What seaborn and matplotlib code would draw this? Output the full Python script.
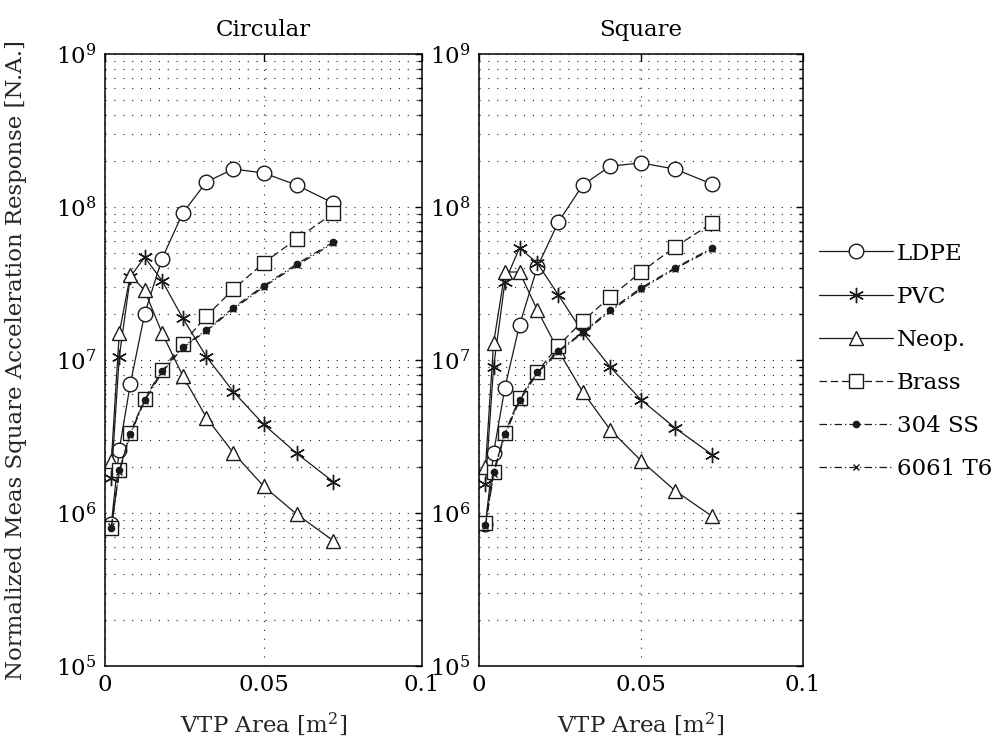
import numpy as np
import pandas as pd
import seaborn as sns
import matplotlib
matplotlib.use("Agg")
import matplotlib.pyplot as plt
from matplotlib.ticker import LogLocator, NullFormatter, LogFormatterSciNotation, FixedLocator, NullLocator

# ---------------- data ----------------
area = [0.002, 0.0045, 0.008, 0.0125, 0.018, 0.0245, 0.032, 0.0405, 0.05, 0.0605, 0.072]
materials = ["LDPE", "PVC", "Neop.", "Brass", "304 SS", "6061 T6"]
panels = ["Circular", "Square"]
x_ticks = [0, 0.05, 0.1]
x_tick_labels = ["0", "0.05", "0.1"]

circ_ldpe = [8.5e5, 2.6e6, 7.0e6, 2.0e7, 4.6e7, 9.1e7, 1.46e8, 1.77e8, 1.67e8, 1.39e8, 1.06e8]
circ_pvc = [1.7e6, 1.05e7, 3.5e7, 4.7e7, 3.3e7, 1.88e7, 1.05e7, 6.2e6, 3.8e6, 2.45e6, 1.6e6]
circ_neop = [2.2e6, 1.5e7, 3.6e7, 2.85e7, 1.5e7, 7.9e6, 4.2e6, 2.47e6, 1.5e6, 9.8e5, 6.6e5]
circ_brass = [8.0e5, 1.9e6, 3.35e6, 5.6e6, 8.6e6, 1.28e7, 1.94e7, 2.9e7, 4.3e7, 6.2e7, 9.1e7]
circ_ss = [8.0e5, 1.9e6, 3.3e6, 5.5e6, 8.5e6, 1.22e7, 1.57e7, 2.2e7, 3.05e7, 4.24e7, 5.9e7]
circ_al = [8.2e5, 1.85e6, 3.25e6, 5.4e6, 8.3e6, 1.2e7, 1.55e7, 2.15e7, 3.0e7, 4.15e7, 5.8e7]

sq_ldpe = [8.5e5, 2.47e6, 6.6e6, 1.69e7, 4.05e7, 7.98e7, 1.39e8, 1.85e8, 1.94e8, 1.77e8, 1.41e8]
sq_pvc = [1.55e6, 9.0e6, 3.24e7, 5.4e7, 4.3e7, 2.66e7, 1.52e7, 9.0e6, 5.5e6, 3.6e6, 2.4e6]
sq_neop = [2.0e6, 1.29e7, 3.76e7, 3.76e7, 2.12e7, 1.15e7, 6.2e6, 3.5e6, 2.2e6, 1.4e6, 9.5e5]
sq_brass = [8.6e5, 1.85e6, 3.34e6, 5.65e6, 8.4e6, 1.24e7, 1.8e7, 2.58e7, 3.76e7, 5.48e7, 7.86e7]
sq_ss = [8.4e5, 1.85e6, 3.3e6, 5.5e6, 8.3e6, 1.15e7, 1.52e7, 2.12e7, 2.96e7, 4.0e7, 5.4e7]
sq_al = [8.2e5, 1.8e6, 3.25e6, 5.4e6, 8.2e6, 1.13e7, 1.5e7, 2.08e7, 2.9e7, 3.95e7, 5.3e7]

panel_data = {
    "Circular": [circ_ldpe, circ_pvc, circ_neop, circ_brass, circ_ss, circ_al],
    "Square": [sq_ldpe, sq_pvc, sq_neop, sq_brass, sq_ss, sq_al],
}

# ---------------- styles ----------------
styles = {
    "LDPE":    dict(marker="o", linestyle="-", mfc="white", ms=10.5),
    "PVC":     dict(marker=(6, 2, 0), linestyle="-", mfc="k", ms=11),
    "Neop.":   dict(marker="^", linestyle="-", mfc="white", ms=10.5),
    "Brass":   dict(marker="s", linestyle=(0, (6, 3)), mfc="white", ms=10.5),
    "304 SS":  dict(marker=".", linestyle=(0, (6, 2.5, 1, 2.5)), mfc="k", ms=9),
    "6061 T6": dict(marker="x", linestyle=(0, (6, 2.5, 1, 2.5)), mfc="k", ms=5),
}

sns.set_theme(style="white")
plt.rcParams["font.family"] = ["DejaVu Serif"]
plt.rcParams["mathtext.fontset"] = "dejavuserif"
plt.rcParams["axes.edgecolor"] = "black"
plt.rcParams["text.color"] = "black"
plt.rcParams["xtick.color"] = "black"
plt.rcParams["ytick.color"] = "black"

FS = 16.5
fig = plt.figure(figsize=(10.08, 7.51), dpi=100)
W, H = 1008, 751
ax_pos = [(105, 54, 422, 666), (479, 54, 803, 666)]
axes = []
for (l, t, r, b) in ax_pos:
    axes.append(fig.add_axes([l / W, 1 - b / H, (r - l) / W, (b - t) / H]))

for ax, panel in zip(axes, panels):
    for mat, yvals in zip(materials, panel_data[panel]):
        df = pd.DataFrame({"area": area, "resp": yvals})
        st = styles[mat]
        sns.lineplot(data=df, x="area", y="resp", ax=ax, color="k", legend=False,
                     marker=st["marker"], linestyle=st["linestyle"], linewidth=0.9,
                     markersize=st["ms"], markerfacecolor=st["mfc"],
                     markeredgecolor="k", markeredgewidth=1.0, sort=True)
    ax.set_yscale("log")
    ax.set_xlim(0, 0.1)
    ax.set_ylim(1e5, 1e9)
    ax.xaxis.set_major_locator(FixedLocator(x_ticks))
    ax.set_xticklabels(x_tick_labels)
    ax.xaxis.set_minor_locator(NullLocator())
    ax.yaxis.set_major_locator(LogLocator(base=10, numticks=10))
    ax.yaxis.set_minor_locator(LogLocator(base=10, subs=np.arange(2, 10), numticks=20))
    ax.yaxis.set_major_formatter(LogFormatterSciNotation())
    ax.yaxis.set_minor_formatter(NullFormatter())
    ax.tick_params(which="both", direction="in", top=True, right=True,
                   labelsize=FS, colors="black", width=1.0)
    ax.tick_params(which="major", length=5, pad=6)
    ax.tick_params(which="minor", length=3)
    ax.grid(True, which="both", axis="y", color="0.1", linestyle=(0, (1, 7)), linewidth=0.8)
    ax.grid(True, which="major", axis="x", color="0.1", linestyle=(0, (1, 7)), linewidth=0.8)
    for s in ax.spines.values():
        s.set_linewidth(1.1)
        s.set_color("black")
    ax.set_title(panel, fontsize=FS, pad=13)
    ax.set_xlabel("VTP Area [m$^2$]", fontsize=FS, labelpad=10)
    ax.set_ylabel("")

axes[0].set_ylabel("Normalized Meas Square Acceleration Response [N.A.]", fontsize=FS)
axes[0].yaxis.set_label_coords(-0.246, 0.5)

handles = axes[0].get_lines()[:len(materials)]
fig.legend(handles, materials, loc="upper left", bbox_to_anchor=(819 / W, 1 - 242.5 / H),
           frameon=False, fontsize=FS, borderpad=0, borderaxespad=0, handlelength=3.23,
           handletextpad=0.17, labelspacing=0.92)

fig.savefig("out.png", dpi=100, facecolor="white")
